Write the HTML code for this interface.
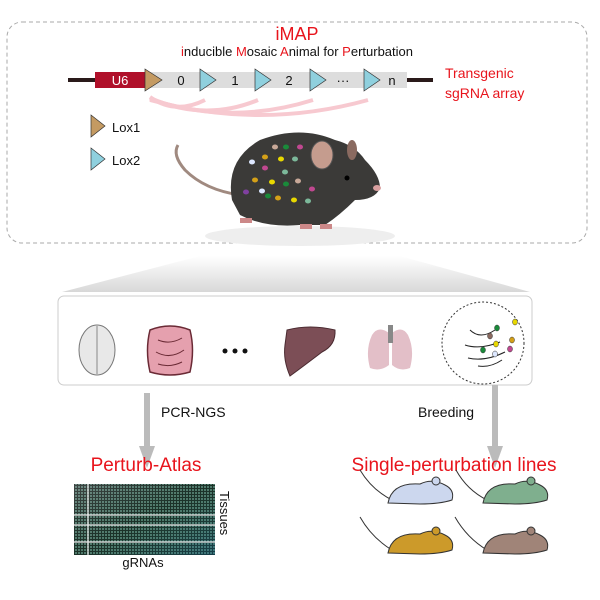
<!DOCTYPE html>
<html><head><meta charset="utf-8"><style>
html,body{margin:0;padding:0;background:#fff}
svg{display:block}
text{font-family:"Liberation Sans",sans-serif}
</style></head><body>
<svg width="600" height="600" viewBox="0 0 600 600" xmlns="http://www.w3.org/2000/svg">
<defs>
<linearGradient id="fan" x1="0" y1="0" x2="0" y2="1">
<stop offset="0" stop-color="#fff"/><stop offset="1" stop-color="#d8d8d8"/></linearGradient>
<pattern id="hm" width="3" height="3" patternUnits="userSpaceOnUse">
<rect width="3" height="3" fill="#0e1614"/><rect width="2" height="2" fill="#4a6a62"/></pattern>
<linearGradient id="hmc" x1="0" y1="0" x2="1" y2="1">
<stop offset="0" stop-color="#fff" stop-opacity="0.2"/><stop offset="0.5" stop-color="#6c9" stop-opacity="0.15"/><stop offset="1" stop-color="#28a" stop-opacity="0.35"/></linearGradient>
</defs>
<rect x="7" y="22" width="580" height="221" rx="15" fill="none" stroke="#aaa" stroke-dasharray="4,3"/>
<text x="297" y="40" font-size="18" fill="#e8141c" text-anchor="middle">iMAP</text>
<text x="297" y="56" font-size="13" text-anchor="middle" fill="#111"><tspan fill="#e8141c">i</tspan>nducible <tspan fill="#e8141c">M</tspan>osaic <tspan fill="#e8141c">A</tspan>nimal for <tspan fill="#e8141c">P</tspan>erturbation</text>
<line x1="68" y1="80" x2="433" y2="80" stroke="#2a1a1a" stroke-width="4"/>
<rect x="145" y="72" width="262" height="16" fill="#ddd"/>
<rect x="95" y="72" width="50" height="16" fill="#b0102a"/>
<text x="120" y="85" font-size="13" fill="#fff" text-anchor="middle">U6</text>
<polygon points="145,69 162,80 145,91" fill="#c49a62" stroke="#333" stroke-width="0.7"/>
<g fill="#8fd0de" stroke="#333" stroke-width="0.7">
<polygon points="200,69 216,80 200,91"/><polygon points="255,69 271,80 255,91"/><polygon points="310,69 326,80 310,91"/><polygon points="364,69 380,80 364,91"/></g>
<g font-size="13" fill="#111" text-anchor="middle"><text x="181" y="85">0</text><text x="235" y="85">1</text><text x="289" y="85">2</text><text x="343" y="85">···</text><text x="392" y="85">n</text></g>
<text x="445" y="78" font-size="14" fill="#e8141c">Transgenic</text>
<text x="445" y="98" font-size="14" fill="#e8141c">sgRNA array</text>
<g fill="none" stroke="#f7c4cc" stroke-width="4" opacity="0.9">
<path d="M150 97 Q175 115 205 100"/><path d="M150 98 Q205 122 258 100"/><path d="M150 99 Q230 126 313 100"/><path d="M150 100 Q260 130 368 100"/></g>
<polygon points="91,115 105,126 91,137" fill="#c49a62" stroke="#333" stroke-width="0.7"/>
<text x="112" y="132" font-size="13" fill="#111">Lox1</text>
<polygon points="91,148 105,159 91,170" fill="#8fd0de" stroke="#333" stroke-width="0.7"/>
<text x="112" y="165" font-size="13" fill="#111">Lox2</text>
<!-- mouse -->
<ellipse cx="300" cy="236" rx="95" ry="10" fill="#eee"/>
<path d="M240 195 Q205 190 185 170 Q172 155 178 145" fill="none" stroke="#a08a80" stroke-width="3"/>
<path d="M232 200 Q225 160 260 140 Q300 125 335 140 Q355 145 365 160 Q380 175 380 188 Q375 200 355 200 Q340 215 325 225 L300 225 Q265 228 240 215 Z" fill="#3b3a38"/>
<ellipse cx="322" cy="155" rx="11" ry="14" fill="#c59c8e" stroke="#555"/>
<ellipse cx="352" cy="150" rx="5" ry="10" fill="#8a6a60"/>
<circle cx="347" cy="178" r="2.5" fill="#000"/>
<ellipse cx="377" cy="188" rx="4" ry="3" fill="#d9a0a0"/>
<g fill="#c88" ><rect x="240" y="218" width="12" height="5"/><rect x="300" y="224" width="12" height="5"/><rect x="320" y="224" width="12" height="5"/></g>
<g>
<ellipse cx="275" cy="147" rx="3" ry="2.5" fill="#c8a898"/><ellipse cx="286" cy="147" rx="3" ry="2.5" fill="#1a8a3a"/><ellipse cx="300" cy="147" rx="3" ry="2.5" fill="#c04890"/>
<ellipse cx="265" cy="157" rx="3" ry="2.5" fill="#d4a018"/><ellipse cx="281" cy="159" rx="3" ry="2.5" fill="#e8d800"/><ellipse cx="295" cy="159" rx="3" ry="2.5" fill="#7cb89a"/>
<ellipse cx="252" cy="162" rx="3" ry="2.5" fill="#dde8ff"/><ellipse cx="265" cy="168" rx="3" ry="2.5" fill="#c04890"/><ellipse cx="285" cy="172" rx="3" ry="2.5" fill="#7cb89a"/>
<ellipse cx="255" cy="180" rx="3" ry="2.5" fill="#d4a018"/><ellipse cx="272" cy="182" rx="3" ry="2.5" fill="#e8d800"/><ellipse cx="286" cy="184" rx="3" ry="2.5" fill="#1a8a3a"/><ellipse cx="298" cy="181" rx="3" ry="2.5" fill="#c8a898"/>
<ellipse cx="246" cy="192" rx="3" ry="2.5" fill="#8040a0"/><ellipse cx="262" cy="191" rx="3" ry="2.5" fill="#dde8ff"/><ellipse cx="268" cy="196" rx="3" ry="2.5" fill="#1a8a3a"/><ellipse cx="312" cy="189" rx="3" ry="2.5" fill="#c04890"/>
<ellipse cx="278" cy="198" rx="3" ry="2.5" fill="#d4a018"/><ellipse cx="294" cy="200" rx="3" ry="2.5" fill="#e8d800"/><ellipse cx="308" cy="201" rx="3" ry="2.5" fill="#7cb89a"/>
</g>
<!-- fan -->
<polygon points="62,292 530,292 400,256 200,256" fill="url(#fan)"/>
<rect x="58" y="296" width="474" height="89" rx="6" fill="#fff" stroke="#ccc"/>
<!-- organs -->
<ellipse cx="97" cy="350" rx="18" ry="25" fill="#e8e8e8" stroke="#777"/><line x1="97" y1="326" x2="97" y2="374" stroke="#888"/>
<path d="M150 330 Q170 322 190 330 Q195 350 190 372 Q170 378 150 372 Q145 350 150 330Z" fill="#e5a0ae" stroke="#6a2a35" stroke-width="1.5"/>
<path d="M158 340 Q170 345 182 338 M156 352 Q170 360 184 350 M158 364 Q170 368 182 362" stroke="#6a2a35" fill="none"/>
<g fill="#111"><circle cx="225" cy="351" r="2.5"/><circle cx="235" cy="351" r="2.5"/><circle cx="245" cy="351" r="2.5"/></g>
<path d="M287 330 Q310 324 335 330 Q336 345 322 352 Q305 365 290 376 Q283 360 285 345Z" fill="#7c4e56" stroke="#4a2a30"/>
<path d="M372 335 Q378 325 389 333 L389 365 Q380 372 370 368 Q365 350 372 335Z M392 333 Q402 325 408 335 Q415 350 410 368 Q400 372 392 365Z" fill="#e3bfc8"/>
<rect x="388" y="325" width="5" height="18" fill="#888"/>
<circle cx="483" cy="343" r="41" fill="none" stroke="#333" stroke-dasharray="2,2"/>
<g stroke="#222" fill="none"><path d="M470 330 Q480 340 495 330 M465 345 Q480 350 500 342 M468 358 Q485 362 505 352 M478 366 Q490 368 502 360"/></g>
<g stroke="#333" stroke-width="0.5"><ellipse cx="497" cy="328" rx="2.5" ry="3" fill="#1a8a3a"/><ellipse cx="515" cy="322" rx="2.5" ry="3" fill="#e8d800"/><ellipse cx="490" cy="336" rx="2.5" ry="3" fill="#8a6a60"/><ellipse cx="496" cy="344" rx="2.5" ry="3" fill="#e8d800"/><ellipse cx="512" cy="340" rx="2.5" ry="3" fill="#d4a018"/><ellipse cx="483" cy="350" rx="2.5" ry="3" fill="#1a8a3a"/><ellipse cx="495" cy="354" rx="2.5" ry="3" fill="#dde8ff"/><ellipse cx="510" cy="349" rx="2.5" ry="3" fill="#c04890"/></g>
<!-- arrows -->
<rect x="144" y="393" width="6" height="55" fill="#bbb"/><polygon points="139,446 155,446 147,468" fill="#bbb"/>
<rect x="492" y="385" width="6" height="63" fill="#bbb"/><polygon points="487,446 503,446 495,468" fill="#bbb"/>
<text x="161" y="417" font-size="14" fill="#111">PCR-NGS</text>
<text x="418" y="417" font-size="14" fill="#111">Breeding</text>
<text x="146" y="471" font-size="19" fill="#e8141c" text-anchor="middle">Perturb-Atlas</text>
<text x="454" y="471" font-size="19" fill="#e8141c" text-anchor="middle">Single-perturbation lines</text>
<!-- heatmap -->
<rect x="74" y="484" width="141" height="71" fill="url(#hm)"/>
<rect x="74" y="484" width="141" height="71" fill="url(#hmc)"/>
<g stroke="#eee" stroke-width="1.2"><line x1="74" y1="515" x2="215" y2="515"/><line x1="74" y1="525" x2="215" y2="525"/><line x1="74" y1="542" x2="215" y2="542"/><line x1="88" y1="484" x2="88" y2="555"/></g>
<text transform="translate(220,491) rotate(90)" font-size="13" fill="#111">Tissues</text>
<text x="143" y="567" font-size="13" fill="#111" text-anchor="middle">gRNAs</text>
<!-- mice -->
<g stroke="#333" stroke-width="1">
<g><path d="M392 500 Q372 490 360 470" fill="none"/><path d="M388 503 Q392 482 420 484 Q432 478 445 485 Q455 490 452 500 Q440 504 420 504 Z" fill="#ccd7ee"/><circle cx="436" cy="481" r="4" fill="#ccd7ee"/></g>
<g><path d="M487 500 Q467 490 456 470" fill="none"/><path d="M483 503 Q487 482 515 484 Q527 478 540 485 Q550 490 547 500 Q535 504 515 504 Z" fill="#7faf8e"/><circle cx="531" cy="481" r="4" fill="#7faf8e"/></g>
<g><path d="M392 550 Q372 538 360 517" fill="none"/><path d="M388 553 Q392 532 420 534 Q432 528 445 535 Q455 540 452 550 Q440 554 420 554 Z" fill="#cc9a2a"/><circle cx="436" cy="531" r="4" fill="#cc9a2a"/></g>
<g><path d="M487 550 Q467 538 455 517" fill="none"/><path d="M483 553 Q487 532 515 534 Q527 528 540 535 Q550 540 547 550 Q535 554 515 554 Z" fill="#a08478"/><circle cx="531" cy="531" r="4" fill="#a08478"/></g>
</g>
</svg>
</body></html>
